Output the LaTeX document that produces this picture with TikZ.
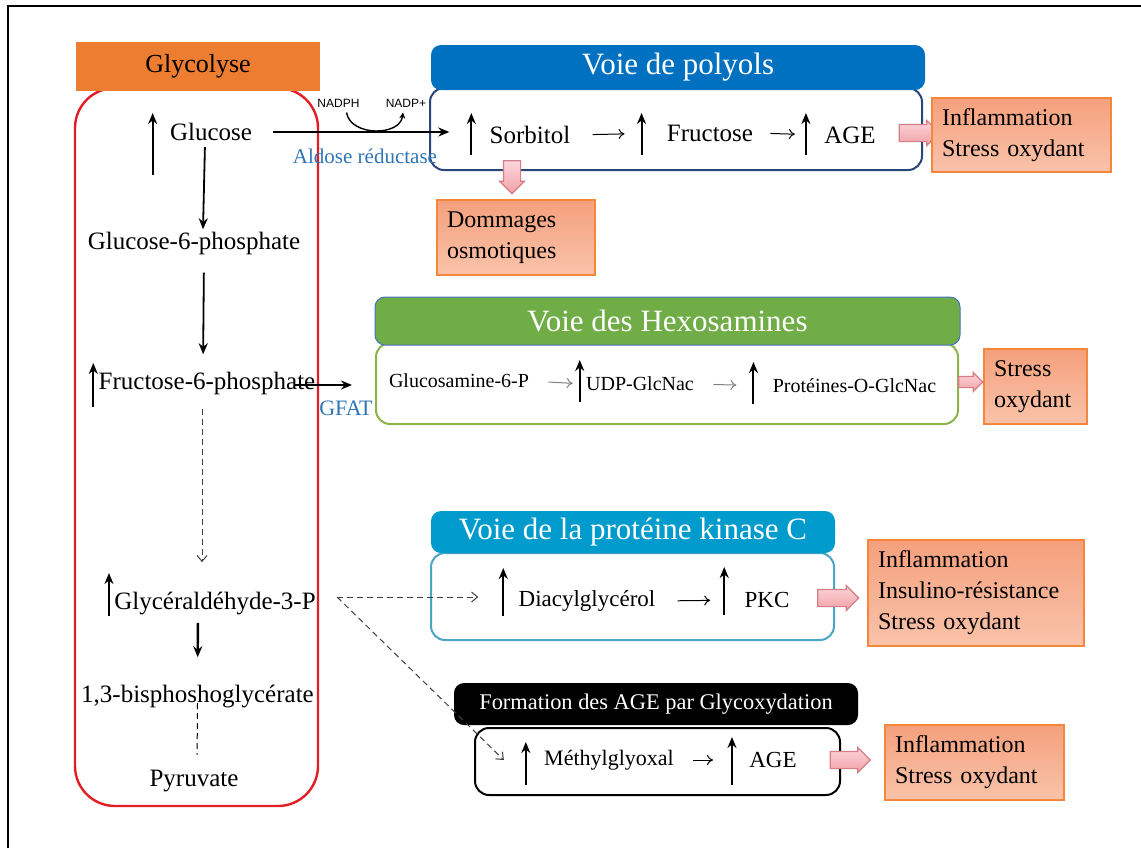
\documentclass[tikz,border=0pt]{standalone}
\usepackage{fontspec}
\setmainfont{Liberation Serif}
\newfontfamily\nadfont{Liberation Sans}
\usetikzlibrary{arrows.meta,shapes.arrows}
\definecolor{glyorange}{RGB}{237,125,49}
\definecolor{glyred}{RGB}{226,30,36}
\definecolor{polyblue}{RGB}{0,112,192}
\definecolor{polyborder}{RGB}{40,70,120}
\definecolor{hexgreen}{RGB}{112,173,71}
\definecolor{hexborder}{RGB}{140,180,75}
\definecolor{hexline}{RGB}{68,114,196}
\definecolor{pkcblue}{RGB}{0,155,205}
\definecolor{pkcborder}{RGB}{75,165,195}
\definecolor{efftop}{RGB}{245,160,125}
\definecolor{effbot}{RGB}{249,195,170}
\definecolor{effborder}{RGB}{245,135,60}
\definecolor{pinktop}{RGB}{252,215,220}
\definecolor{pinkbot}{RGB}{240,160,165}
\definecolor{pinkborder}{RGB}{215,125,135}
\definecolor{enzblue}{RGB}{46,117,182}
\begin{document}
\begin{tikzpicture}[x=0.5pt,y=-0.5pt,
    met/.style = {font=\fontsize{12.5}{15}\selectfont, inner sep=1pt},
    metp/.style = {font=\fontsize{10}{12}\selectfont, inner sep=1pt},
    metm/.style = {font=\fontsize{11.5}{14}\selectfont, inner sep=1pt},
    corps/.style = {draw, line width=1pt, rounded corners=7pt, fill=white, inner sep=0pt},
    titre/.style = {rounded corners=5pt, text=white, inner sep=0pt, font=\fontsize{15.5}{18}\selectfont},
    effet/.style = {draw=effborder, line width=0.9pt, top color=efftop, bottom color=effbot, align=left, inner xsep=5pt, inner ysep=0pt, font=\fontsize{12}{15.5}\selectfont},
    fleche/.style = {single arrow, draw=pinkborder, line width=0.6pt, top color=pinktop, bottom color=pinkbot, inner xsep=0pt, inner ysep=4pt, minimum width=12pt, minimum height=20pt, single arrow head extend=2pt},
    flux/.style = {-{Stealth[length=5.5pt,width=4.5pt]}, line width=0.9pt},
    hausse/.style = {-{Stealth[length=5.5pt,width=4.5pt]}, line width=1pt},
    fin/.style = {-{To[length=3pt,width=5pt]}, line width=0.5pt},
    pointille/.style = {dash pattern=on 3pt off 2pt, draw=darkgray, line width=0.5pt, -{Straight Barb[length=3pt,width=5pt]}}]
    \useasboundingbox (0,0) rectangle (1141,848);
    \draw[line width=1pt] (8,848) -- (8,6) -- (1141,6);

    \node[draw=glyred, line width=1.2pt, rounded corners=20pt, minimum width=121.5pt, minimum height=359pt, inner sep=0pt] (glybox) at (196.5,447) {};
    \node[fill=glyorange, minimum width=122pt, minimum height=24.5pt, inner sep=0pt, font=\fontsize{13}{15}\selectfont] (glyhead) at (198,66.5) {Glycolyse};
    \node[met] (glc) at (211,132) {Glucose};
    \node[met] (g6p) at (194,243) {Glucose-6-phosphate};
    \node[met] (f6p) at (207,383) {Fructose-6-phosphate};
    \node[met] (gap) at (215,603) {Glycéraldéhyde-3-P};
    \node[met] (bpg) at (197.5,696) {1,3-bisphoshoglycérate};
    \node[met] (pyr) at (194,781) {Pyruvate};
    \draw[hausse] ([shift={(-15,43)}]glc.west) -- ++(0,-62);
    \draw[hausse] ([shift={(-3,24)}]f6p.west) -- ++(0,-44);
    \draw[hausse] ([shift={(-3,13)}]gap.west) -- ++(0,-43);
    \draw[flux, shorten <=2pt] ([shift={(-6,0)}]glc.south) -- ([shift={(9,0)}]g6p.north);
    \draw[flux, shorten <=8pt, shorten >=7.5pt] ([shift={(10,0)}]g6p.south) -- ([shift={(-4,0)}]f6p.north);
    \draw[pointille, shorten <=6pt, shorten >=13.5pt] ([shift={(-5,0)}]f6p.south) -- ([shift={(-13,0)}]gap.north);
    \draw[flux, line width=1.2pt, shorten <=3pt, shorten >=12.5pt] ([shift={(-17,0)}]gap.south) -- (bpg.north);
    \draw[dash pattern=on 3pt off 2pt, line width=0.5pt, shorten >=6.5pt] ([shift={(0,7)}]bpg.center) -- ([shift={(3,0)}]pyr.north);

    \node[corps, draw=polyborder, minimum width=246pt, minimum height=41pt] (polybody) at (676,129) {};
    \node[titre, fill=polyblue, minimum width=247pt, minimum height=22.5pt] (polyhead) at (678,67.5) {Voie de polyols};
    \node[met] (sorb) at (530,135) {Sorbitol};
    \node[met] (fru) at (710,133) {Fructose};
    \node[met] (age1) at (850,135) {AGE};
    \draw[hausse] ([shift={(-16,20)}]sorb.west) -- ++(0,-42);
    \draw[hausse] ([shift={(-23,22)}]fru.west) -- ++(0,-42);
    \draw[hausse] ([shift={(-16,20)}]age1.west) -- ++(0,-42);
    \draw[fin, shorten <=10pt, shorten >=20pt] (sorb.east) -- (fru.west);
    \draw[fin, shorten <=7.5pt, shorten >=13.5pt] (fru.east) -- (age1.west);
    \draw[flux, shorten >=19pt] ([shift={(19,0)}]glc.east) -- (glc.east -| sorb.west);
    \node[font=\nadfont\fontsize{6}{7}\selectfont, inner sep=1pt] (nadph) at (338.5,103) {NADPH};
    \node[font=\nadfont\fontsize{6}{7}\selectfont, inner sep=1pt] (nadp) at (406,103) {NADP+};
    \draw[-{Stealth[length=3pt,width=3pt]}, line width=0.7pt] ([shift={(8,3)}]nadph.south) .. controls +(4,24) and +(-3,24) .. ([shift={(-3,3)}]nadp.south);
    \node[font=\fontsize{10.5}{12}\selectfont, text=enzblue, inner sep=1pt] (aldose) at (365,156) {Aldose réductase};
    \node[fleche] (p1) at (915,133) {};
    \node[effet, text width=79.5pt, minimum height=37pt] (eff1) at (1021.5,135) {Inflammation\\Stress oxydant};
    \node[fleche, rotate=-90, minimum height=16.5pt] (p2) at (512,173) {};
    \node[effet, text width=69pt, minimum height=37.5pt] (eff2) at (516,237.5) {Dommages\\osmotiques};

    \node[corps, draw=hexborder, minimum width=291pt, minimum height=40.5pt] (hexbody) at (667,383.5) {};
    \node[titre, fill=hexgreen, draw=hexline, line width=0.5pt, minimum width=292.5pt, minimum height=24pt] (hexhead) at (667.5,321) {Voie des Hexosamines};
    \node[metp] (gcn) at (459,381) {Glucosamine-6-P};
    \node[metp] (udp) at (640,384) {UDP-GlcNac};
    \node[metp] (prot) at (854.5,386) {Protéines-O-GlcNac};
    \draw[hausse] ([shift={(-4,18)}]udp.west) -- ++(0,-42);
    \draw[hausse] ([shift={(-17,18)}]prot.west) -- ++(0,-42);
    \draw[fin, draw=gray, shorten <=8.5pt, shorten >=5.5pt] (gcn.east) -- (udp.west);
    \draw[fin, draw=gray, shorten <=8.5pt, shorten >=17pt] (udp.east) -- (prot.west);
    \draw[flux] ([shift={(-23,2)}]f6p.east) -- ([shift={(-23,2)}]f6p.east -| hexbody.west);
    \node[font=\fontsize{11}{13}\selectfont, text=enzblue, inner sep=1pt] (gfat) at (346,408) {GFAT};
    \node[fleche, minimum height=12pt, minimum width=9pt, inner ysep=2.5pt] (p3) at (968,382) {};
    \node[effet, text width=41.5pt, minimum height=37.5pt] (eff3) at (1035.5,386.5) {Stress\\oxydant};

    \node[corps, draw=pkcborder, minimum width=201.5pt, minimum height=43.5pt] (pkcbody) at (632.5,596.5) {};
    \node[titre, fill=pkcblue, minimum width=202pt, minimum height=21pt] (pkchead) at (633,532) {Voie de la protéine kinase C};
    \node[metm] (dag) at (587,601) {Diacylglycérol};
    \node[metm] (pkc) at (767,600) {PKC};
    \draw[hausse] ([shift={(-13,15)}]dag.west) -- ++(0,-48);
    \draw[hausse] ([shift={(-18,15)}]pkc.west) -- ++(0,-48);
    \draw[fin, shorten <=10pt, shorten >=16pt] (dag.east) -- (pkc.west);
    \node[fleche, minimum height=20.5pt] (p4) at (834,598) {};
    \node[effet, text width=98pt, minimum height=53pt] (eff4) at (976,593) {Inflammation\\Insulino-résistance\\Stress oxydant};

    \node[corps, draw=black, minimum width=182.5pt, minimum height=33.5pt] (agebody) at (657.5,761.5) {};
    \node[titre, fill=black, minimum width=202pt, minimum height=21pt, font=\fontsize{11.2}{13}\selectfont] (agehead) at (656,704) {Formation des AGE par Glycoxydation};
    \node[metm, font=\fontsize{11}{13}\selectfont] (mgo) at (609,760) {Méthylglyoxal};
    \node[metm] (age2) at (773,760) {AGE};
    \draw[hausse] ([shift={(-16,25)}]mgo.west) -- ++(0,-43);
    \draw[hausse] ([shift={(-15,25)}]age2.west) -- ++(0,-48);
    \draw[fin, shorten <=8.5pt, shorten >=17pt] (mgo.east) -- (age2.west);
    \node[fleche] (p5) at (846,760) {};
    \node[effet, text width=79.5pt, minimum height=37.5pt] (eff5) at (974.5,762.5) {Inflammation\\Stress oxydant};

    \coordinate (gapout) at ([shift={(19,-6)}]gap.east);
    \draw[pointille, shorten >=19pt] (gapout) -- (gapout -| dag.west);
    \draw[pointille] (gapout) -- ([shift={(-38,0)}]mgo.west);
\end{tikzpicture}
\end{document}
